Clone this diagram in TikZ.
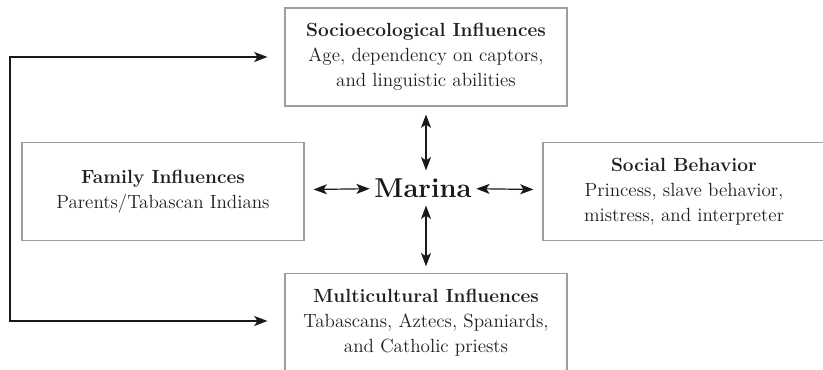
\documentclass[tikz,border=0pt]{standalone}
\usetikzlibrary{positioning, arrows.meta}

\begin{document}
\begin{tikzpicture}[x=0.75pt, y=0.75pt,
    infobox/.style={draw=black!38, line width=0.8pt, minimum width=211.5pt, minimum height=73.5pt,
      inner sep=0pt, align=center, text=black!88, font=\fontsize{14.3}{18.75}\selectfont},
    ht/.tip={Stealth[length=10pt, width=7.5pt, inset=2.5pt]},
    link/.style={line width=0.9pt, black!90, {ht}-{ht}},
  ]
    % frame
    \useasboundingbox (0,0) rectangle (823,370);

    % centre
    \node[inner sep=0pt, minimum width=79.5pt, minimum height=26pt, text=black!90,
      font=\fontsize{20.5}{24}\selectfont\bfseries] (marina) at (423,182) {Marina};

    % boxes
    \node[infobox] (socio) at (426,313)
      {\textbf{Socioecological Influences}\\Age, dependency on captors,\\and linguistic abilities};
    \node[infobox] (family) at (163,178.5)
      {\textbf{Family Influences}\\Parents/Tabascan Indians};
    \node[infobox] (behavior) at (684,178.5)
      {\textbf{Social Behavior}\\Princess, slave behavior,\\mistress, and interpreter};
    \node[infobox] (multi) at (426,47.5)
      {\textbf{Multicultural Influences}\\Tabascans, Aztecs, Spaniards,\\and Catholic priests};

    % arrows round Marina
    \draw[link, shorten >=6pt] (marina.north -| socio.south) -- (socio.south);
    \draw[link, shorten >=5pt] (marina.south -| multi.north) -- (multi.north);
    \draw[link, shorten >=6.75pt] (marina) -- (family);
    \draw[link, shorten >=6.75pt] (marina) -- (behavior);

    % left loop
    \coordinate (bend) at (10,49);
    \draw[link, shorten <=12.75pt, shorten >=12.75pt] (socio.west) -| (bend) -- (multi.west |- bend);
  \end{tikzpicture}
\end{document}
